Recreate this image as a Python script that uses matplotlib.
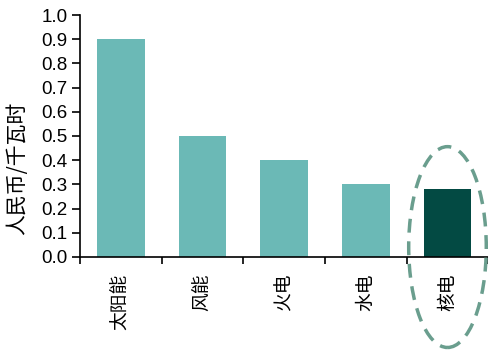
import numpy as np
import matplotlib.pyplot as plt
from matplotlib.patches import Ellipse

plt.rcParams['font.family'] = ['Liberation Sans', 'Noto Sans CJK SC', 'DejaVu Sans']

categories = ['太阳能', '风能', '火电', '水电', '核电']
values = [0.9, 0.5, 0.4, 0.3, 0.28]
colors = ['#6BB9B6', '#6BB9B6', '#6BB9B6', '#6BB9B6', '#034A43']

fig = plt.figure(figsize=(4.89, 3.53), dpi=100)
ax = fig.add_axes([0.1636, 0.272, 0.835, 0.6855])

x = np.arange(len(categories))
ax.bar(x, values, width=0.58, color=colors)

ax.set_xlim(-0.5, len(categories) - 0.5)
ax.set_ylim(0, 1.0)
ax.set_yticks(np.arange(0, 1.01, 0.1))
ax.set_yticklabels(['%.1f' % v for v in np.arange(0, 1.01, 0.1)], fontsize=13.5)
ax.set_ylabel('人民币/千瓦时', fontsize=15, family=['Noto Sans CJK SC'])
ax.yaxis.set_label_coords(-0.128, 0.368)

ax.set_xticks(x)
ax.set_xticklabels(categories, rotation=90, fontsize=13.5, family=['Noto Sans CJK SC'], va='top')
ax.set_xticks(np.arange(-0.5, len(categories), 1), minor=True)
ax.tick_params(axis='x', which='major', length=0, pad=12)
ax.tick_params(axis='x', which='minor', length=5, width=1.2, direction='out')
ax.tick_params(axis='y', length=6, width=1.2, direction='out', pad=3)

for s in ['top', 'right']:
    ax.spines[s].set_visible(False)
ax.spines['left'].set_linewidth(1.2)
ax.spines['bottom'].set_linewidth(1.2)

# dashed ellipse around the nuclear bar
ell = Ellipse((4, 0.041), width=0.95, height=0.83, fill=False,
              edgecolor='#6A9E8E', linewidth=2.5, linestyle=(0, (4, 2.5)),
              clip_on=False, zorder=5)
ax.add_patch(ell)

fig.savefig('out.png', dpi=100)
